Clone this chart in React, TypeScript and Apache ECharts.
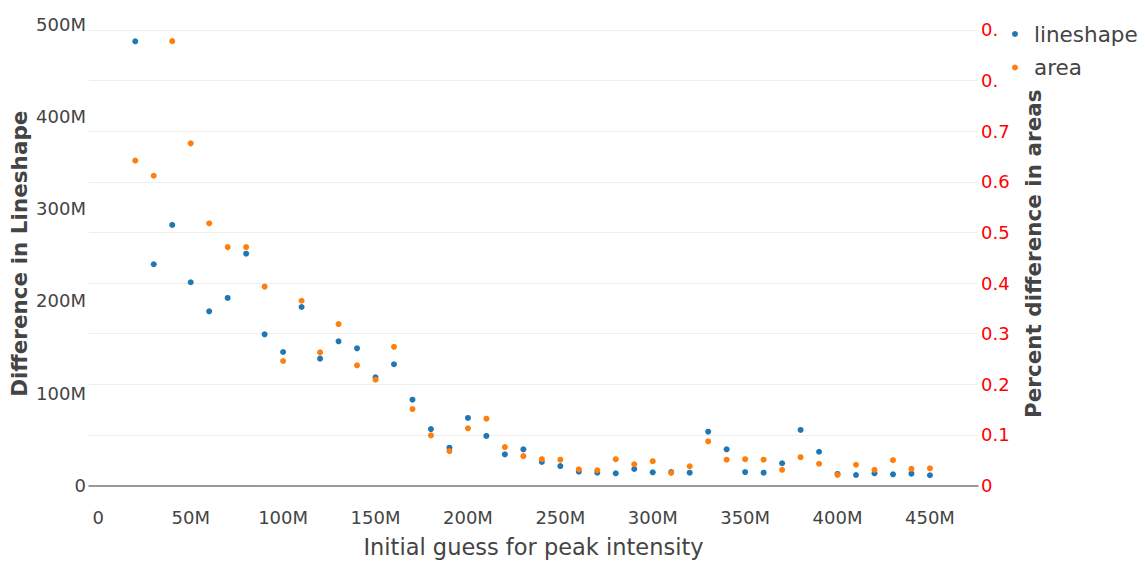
import React, { useEffect, useRef } from "react";
import * as echarts from "echarts";

// Initial guess for peak intensity (x values)
const peakGuess = [
  20e6, 30e6, 40e6, 50e6, 60e6, 70e6, 80e6, 90e6, 100e6, 110e6, 120e6,
  130e6, 140e6, 150e6, 160e6, 170e6, 180e6, 190e6, 200e6, 210e6, 220e6,
  230e6, 240e6, 250e6, 260e6, 270e6, 280e6, 290e6, 300e6, 310e6, 320e6,
  330e6, 340e6, 350e6, 360e6, 370e6, 380e6, 390e6, 400e6, 410e6, 420e6,
  430e6, 440e6, 450e6,
];

// Difference in lineshape (left axis)
const lineshapeDiff = [
  481.5e6, 239.8e6, 282.4e6, 220.3e6, 188.8e6, 203.3e6, 251.3e6, 163.9e6,
  144.7e6, 193.5e6, 137.5e6, 156.3e6, 148.7e6, 117.3e6, 131.4e6, 93.0e6,
  61.2e6, 41.0e6, 73.2e6, 53.7e6, 33.8e6, 39.2e6, 25.5e6, 21.1e6, 14.9e6,
  13.9e6, 13.2e6, 17.9e6, 14.3e6, 14.6e6, 13.9e6, 58.3e6, 39.2e6, 14.6e6,
  13.9e6, 24.1e6, 60.2e6, 36.6e6, 12.5e6, 11.4e6, 13.2e6, 12.1e6, 12.8e6,
  11.1e6,
];

// Percent difference in areas (right axis)
const areaPercentDiff = [
  0.642, 0.612, 0.878, 0.676, 0.518, 0.471, 0.471, 0.393, 0.246, 0.365,
  0.263, 0.319, 0.2375, 0.209, 0.274, 0.151, 0.099, 0.068, 0.113, 0.132,
  0.076, 0.058, 0.052, 0.051, 0.032, 0.03, 0.052, 0.042, 0.048, 0.025,
  0.038, 0.087, 0.051, 0.052, 0.051, 0.031, 0.056, 0.043, 0.021, 0.041,
  0.031, 0.05, 0.033, 0.034,
];

const seriesNames = ["lineshape", "area"];

const FONT = "DejaVu Sans";
const TEXT = "#444";

const isMultiple = (v: number, step: number) =>
  Math.abs(v / step - Math.round(v / step)) < 1e-6;

const fmtMega = (step: number) => (v: number) => {
  if (!isMultiple(v, step)) return "";
  return v === 0 ? "0" : `${Math.round(v / 1e6)}M`;
};

const fmtRatio = (v: number) => {
  if (!isMultiple(v, 0.1)) return "";
  if (v === 0) return "0";
  // the two top labels are cut short by the legend box
  if (v > 0.75) return "0.";
  return v.toFixed(1);
};

export default function App() {
  const ref = useRef<HTMLDivElement>(null);

  useEffect(() => {
    const chart = echarts.init(ref.current!, null, { renderer: "svg" });
    chart.setOption({
      animation: false,
      backgroundColor: "#fff",
      textStyle: { fontFamily: FONT },
      grid: {
        left: 89,
        right: 167,
        top: 22,
        bottom: 75.5,
        outerBoundsMode: "none",
      },
      legend: {
        data: seriesNames,
        orient: "vertical",
        left: 1012,
        top: 23,
        padding: 0,
        itemWidth: 28,
        itemHeight: 6,
        itemGap: 11.5,
        icon: "circle",
        textStyle: { fontSize: 21.5, color: TEXT, fontFamily: FONT },
      },
      xAxis: {
        type: "value",
        min: -5.03e6,
        max: 476e6,
        splitNumber: 10,
        minInterval: 50e6,
        maxInterval: 50e6,
        axisLine: {
          show: true,
          onZero: false,
          lineStyle: { color: "#7a7a7a", width: 1.5 },
        },
        axisTick: { show: false },
        splitLine: { show: false },
        axisLabel: {
          margin: 23,
          fontSize: 18,
          color: TEXT,
          formatter: fmtMega(50e6),
        },
        name: "Initial guess for peak intensity",
        nameLocation: "middle",
        nameGap: 50,
        nameMoveOverlap: false,
        nameTextStyle: { fontSize: 22.5, color: TEXT },
      },
      yAxis: [
        {
          type: "value",
          position: "left",
          min: 0,
          max: 502.4e6,
          interval: 100e6,
          axisLine: { show: false },
          axisTick: { show: false },
          splitLine: { show: false },
          axisLabel: {
            margin: 3,
            fontSize: 18,
            color: TEXT,
            formatter: fmtMega(100e6),
          },
          name: "Difference in Lineshape",
          nameLocation: "middle",
          nameRotate: 90,
          nameGap: 59,
          nameMoveOverlap: false,
          nameTextStyle: { fontSize: 21.5, fontWeight: "bold", color: TEXT },
        },
        {
          type: "value",
          position: "right",
          min: 0,
          max: 0.9158,
          interval: 0.1,
          axisLine: { show: false },
          axisTick: { show: false },
          splitLine: {
            show: true,
            showMinLine: false,
            showMaxLine: false,
            lineStyle: { color: "#eeeeee", width: 1 },
          },
          axisLabel: {
            margin: 3,
            fontSize: 18,
            color: "#ff0000",
            formatter: fmtRatio,
          },
          name: "Percent difference in areas",
          nameLocation: "middle",
          nameRotate: 90,
          nameGap: 44,
          nameMoveOverlap: false,
          nameTextStyle: { fontSize: 21.5, fontWeight: "bold", color: TEXT },
        },
      ],
      series: [
        {
          name: seriesNames[0],
          type: "scatter",
          yAxisIndex: 0,
          symbolSize: 6,
          itemStyle: { color: "#1f77b4", opacity: 1 },
          data: peakGuess.map((x, i) => [x, lineshapeDiff[i]]),
        },
        {
          name: seriesNames[1],
          type: "scatter",
          yAxisIndex: 1,
          symbolSize: 6,
          itemStyle: { color: "#ff7f0e", opacity: 1 },
          data: peakGuess.map((x, i) => [x, areaPercentDiff[i]]),
        },
      ],
    });
    return () => chart.dispose();
  }, []);

  return (
    <div
      ref={ref}
      style={{ position: "fixed", left: 0, top: 0, width: 1145, height: 561 }}
    />
  );
}
